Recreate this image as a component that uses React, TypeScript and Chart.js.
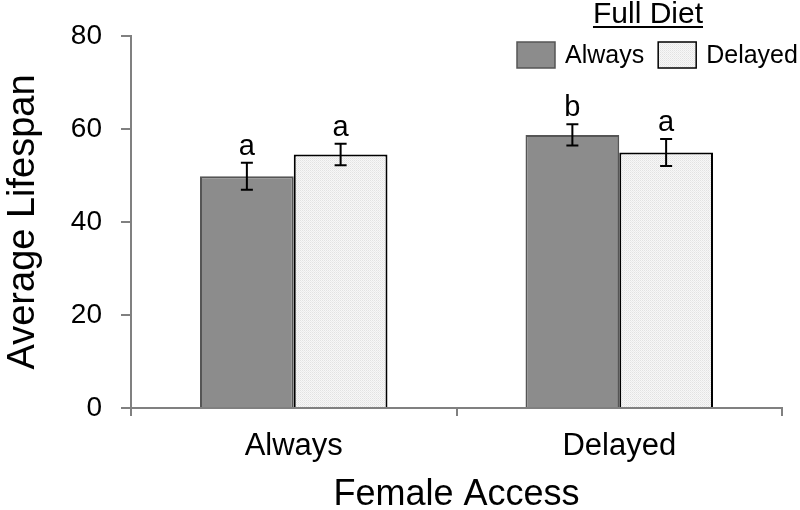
import React, { useEffect, useRef } from "react";
import { Chart, registerables } from "chart.js";

Chart.register(...registerables);

const categories = ["Always", "Delayed"];
const seriesNames = ["Always", "Delayed"];
const alwaysValues = [49.8, 58.7];
const delayedValues = [54.5, 54.9];
const alwaysErrors = [2.9, 2.3];
const delayedErrors = [2.3, 2.9];
const alwaysLetters = ["a", "b"];
const delayedLetters = ["a", "a"];
const yTicks = [0, 20, 40, 60, 80];
const legendTitle = "Full Diet";
const xTitle = "Female Access";
const yTitle = "Average Lifespan";

const FONT = "'Liberation Sans', Arial, sans-serif";

function makePattern(): CanvasPattern | string {
  const c = document.createElement("canvas");
  c.width = 2;
  c.height = 2;
  const ctx = c.getContext("2d");
  if (!ctx) return "#f0f0f0";
  ctx.fillStyle = "#f7f7f7";
  ctx.fillRect(0, 0, 2, 2);
  ctx.fillStyle = "#e2e2e2";
  ctx.fillRect(0, 0, 1, 1);
  ctx.fillStyle = "#ebebeb";
  ctx.fillRect(1, 1, 1, 1);
  const p = ctx.createPattern(c, "repeat");
  return p || "#f0f0f0";
}

const errorPlugin = {
  id: "errorBarsLetters",
  afterDatasetsDraw(chart: any) {
    const ctx = chart.ctx;
    const yScale = chart.scales.y;
    chart.data.datasets.forEach((ds: any, i: number) => {
      const meta = chart.getDatasetMeta(i);
      meta.data.forEach((bar: any, j: number) => {
        const v = ds.data[j];
        const e = ds.errors[j];
        const x = bar.x;
        const yT = yScale.getPixelForValue(v + e);
        const yB = yScale.getPixelForValue(v - e);
        ctx.save();
        ctx.strokeStyle = "#000";
        ctx.lineWidth = 2;
        ctx.beginPath();
        ctx.moveTo(x, yT);
        ctx.lineTo(x, yB);
        ctx.moveTo(x - 6, yT);
        ctx.lineTo(x + 6, yT);
        ctx.moveTo(x - 6, yB);
        ctx.lineTo(x + 6, yB);
        ctx.stroke();
        ctx.fillStyle = "#000";
        ctx.font = `29px ${FONT}`;
        ctx.textAlign = "center";
        ctx.textBaseline = "alphabetic";
        ctx.fillText(ds.letters[j], x, yT - 8);
        ctx.restore();
      });
    });
  },
};

const legendPlugin = {
  id: "customLegend",
  afterDraw(chart: any) {
    const ctx = chart.ctx;
    ctx.save();
    ctx.fillStyle = "#000";
    ctx.font = `30px ${FONT}`;
    ctx.textAlign = "center";
    ctx.textBaseline = "alphabetic";
    const cx = 648;
    ctx.fillText(legendTitle, cx, 23);
    const w = ctx.measureText(legendTitle).width;
    ctx.strokeStyle = "#000";
    ctx.lineWidth = 2;
    ctx.beginPath();
    ctx.moveTo(cx - w / 2, 27);
    ctx.lineTo(cx + w / 2, 27);
    ctx.stroke();
    ctx.font = `25px ${FONT}`;
    ctx.textAlign = "left";
    let x = 517;
    chart.data.datasets.forEach((ds: any) => {
      ctx.fillStyle = ds.backgroundColor;
      ctx.fillRect(x, 42, 38, 26);
      ctx.strokeStyle = ds.borderColor;
      ctx.lineWidth = 1.5;
      ctx.strokeRect(x, 42, 38, 26);
      ctx.fillStyle = "#000";
      ctx.fillText(ds.label, x + 48, 63);
      x += 48 + ctx.measureText(ds.label).width + 14;
    });
    ctx.restore();
  },
};

export default function App() {
  const ref = useRef<HTMLCanvasElement>(null);
  useEffect(() => {
    if (!ref.current) return;
    const pattern = makePattern();
    const chart = new Chart(ref.current, {
      type: "bar",
      data: {
        labels: categories,
        datasets: [
          {
            label: seriesNames[0],
            data: alwaysValues,
            errors: alwaysErrors,
            letters: alwaysLetters,
            backgroundColor: "#8c8c8c",
            borderColor: "#555555",
            borderWidth: 2,
            barPercentage: 1,
            categoryPercentage: 0.576,
          } as any,
          {
            label: seriesNames[1],
            data: delayedValues,
            errors: delayedErrors,
            letters: delayedLetters,
            backgroundColor: pattern,
            borderColor: "#000000",
            borderWidth: 2,
            barPercentage: 1,
            categoryPercentage: 0.576,
          } as any,
        ],
      },
      options: {
        responsive: false,
        animation: false,
        devicePixelRatio: 1,
        layout: { padding: { left: 0, right: 18, top: 35, bottom: 0 } },
        plugins: {
          legend: { display: false },
          tooltip: { enabled: false },
        },
        scales: {
          x: {
            grid: {
              offset: true,
              drawOnChartArea: false,
              drawTicks: true,
              tickLength: 8,
              color: "#808080",
              lineWidth: 2,
            },
            border: { color: "#808080", width: 2 },
            ticks: {
              color: "#000",
              font: { family: FONT, size: 31 },
              padding: 12,
            },
            title: {
              display: true,
              text: xTitle,
              color: "#000",
              font: { family: FONT, size: 36 },
              padding: { top: 0, bottom: -7 },
            },
            afterFit(scale: any) {
              scale.height = 102;
            },
          },
          y: {
            min: 0,
            max: 80,
            afterBuildTicks(scale: any) {
              scale.ticks = yTicks.map((v) => ({ value: v }));
            },
            grid: {
              drawOnChartArea: false,
              drawTicks: true,
              tickLength: 10,
              color: "#808080",
              lineWidth: 2,
            },
            border: { color: "#808080", width: 2 },
            ticks: {
              color: "#000",
              font: { family: FONT, size: 28 },
              padding: 19,
            },
            title: {
              display: true,
              text: yTitle,
              color: "#000",
              font: { family: FONT, size: 38 },
              padding: { top: 1, bottom: 0 },
            },
            afterFit(scale: any) {
              scale.width = 131;
            },
          },
        },
      } as any,
      plugins: [errorPlugin, legendPlugin],
    });
    return () => chart.destroy();
  }, []);
  return (
    <div style={{ position: "absolute", left: 0, top: 0, width: 800, height: 510, background: "#fff" }}>
      <canvas ref={ref} width={800} height={510} style={{ width: 800, height: 510 }} />
    </div>
  );
}
